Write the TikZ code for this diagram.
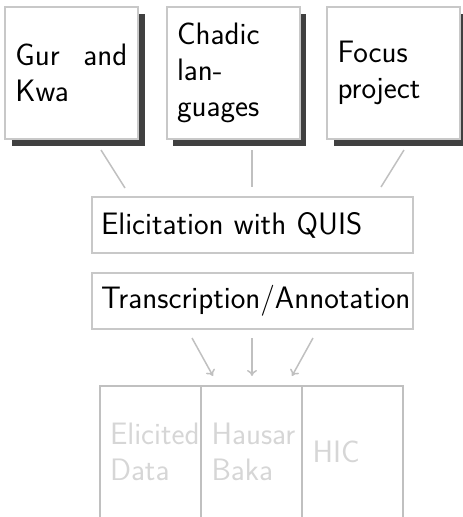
\documentclass[tikz,border=0pt]{standalone}
\usetikzlibrary{arrows.meta,shadows}
\definecolor{boxgray}{HTML}{C8C8C8}
\definecolor{linegray}{HTML}{C0C0C0}
\definecolor{shadowgray}{HTML}{404040}
\definecolor{fadetext}{HTML}{D6D6D6}
\tikzset{
  base/.style={font=\sffamily\fontsize{31}{36}\selectfont},
  topbox/.style={base, draw=boxgray, line width=2pt, fill=white,
    text width=112pt, inner xsep=10.5pt, inner ysep=0pt, minimum height=132pt,
    align=justify,
    drop shadow={shadow xshift=6.5pt, shadow yshift=-7pt, fill=shadowgray, opacity=1}},
  widebox/.style={base, draw=boxgray, line width=2pt, text width=303pt,
    inner xsep=9pt, inner ysep=0pt, minimum height=56pt, align=left},
  databox/.style={base, draw=linegray, line width=2pt, text=fadetext,
    text width=80pt, inner xsep=10.5pt, inner ysep=0pt, minimum height=132pt,
    align=left},
  conn/.style={draw=linegray, line width=1.5pt},
  arr/.style={conn, -{To[length=6pt,width=10pt]}}
}
\begin{document}
\begin{tikzpicture}[x=1pt,y=-1pt]
\useasboundingbox (0,0) rectangle (463,517);
\clip (0,0) rectangle (463,517);
\node[topbox] (gur) at (71.5,73) {Gur and Kwa};
\node[topbox] (chad) at (233,73) {Chadic languages};
\node[topbox] (focus) at (393.5,73) {Focus project};
\node[widebox] (elic) at (252.5,225) {Elicitation with QUIS};
\node[widebox] (trans) at (252.5,300.5) {Transcription/Annotation};
\node[databox] (eld) at (150,452) {Elicited\\Data};
\node[databox] (hb) at (251.5,452) {Hausar\\Baka};
\node[databox] (hic) at (352.5,452) {HIC};
\coordinate (c1a) at (101,150); \coordinate (c1b) at (125,188);
\coordinate (c2a) at (252,150); \coordinate (c2b) at (252,187);
\coordinate (c3a) at (404,150); \coordinate (c3b) at (381,187);
\draw[conn] (c1a) -- (c1b);
\draw[conn] (c2a) -- (c2b);
\draw[conn] (c3a) -- (c3b);
\coordinate (a1a) at (192,338); \coordinate (a1b) at (213,376);
\coordinate (a2a) at (252,338); \coordinate (a2b) at (252,376);
\coordinate (a3a) at (313,338); \coordinate (a3b) at (292,376);
\draw[arr] (a1a) -- (a1b);
\draw[arr] (a2a) -- (a2b);
\draw[arr] (a3a) -- (a3b);
\end{tikzpicture}
\end{document}
